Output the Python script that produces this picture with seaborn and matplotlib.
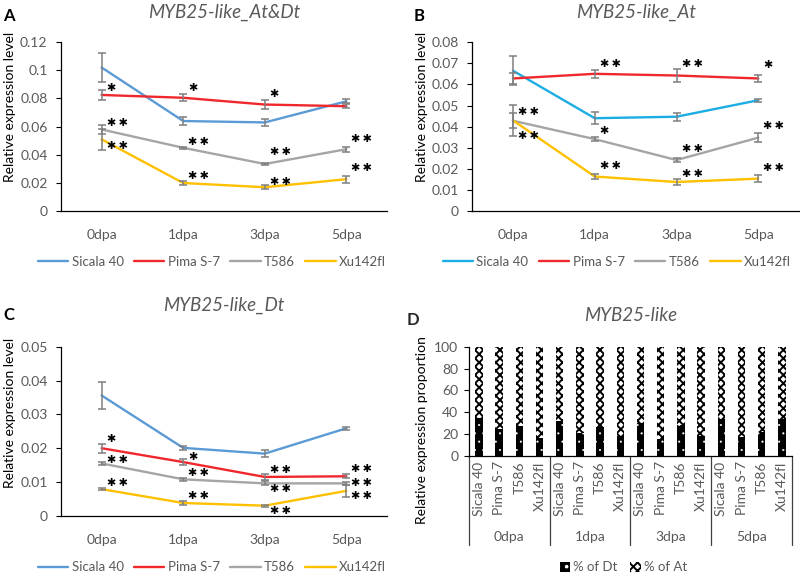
import numpy as np
import pandas as pd
import seaborn as sns
import matplotlib.pyplot as plt
import matplotlib.patches as mpatches
import matplotlib.transforms as mtrans
from matplotlib.ticker import FuncFormatter

sns.set_style("white")
plt.rcParams["font.family"] = ["Lato", "DejaVu Sans"]
plt.rcParams["hatch.linewidth"] = 1.4

stages = ["0dpa", "1dpa", "3dpa", "5dpa"]
cultivars = ["Sicala 40", "Pima S-7", "T586", "Xu142fl"]

# panel A: MYB25-like_At&Dt (rows follow cultivars)
atdt_mean = [[0.102, 0.064, 0.063, 0.078],
             [0.0825, 0.0805, 0.0757, 0.0745],
             [0.058, 0.045, 0.0335, 0.044],
             [0.051, 0.020, 0.017, 0.0227]]
atdt_err = [[0.0105, 0.0027, 0.0025, 0.0013],
            [0.0038, 0.0025, 0.0035, 0.0015],
            [0.003, 0.0006, 0.001, 0.0018],
            [0.0075, 0.0016, 0.0015, 0.0025]]
atdt_sig = [["", "", "", ""],
            ["*", "*", "*", ""],
            ["**", "**", "**", "**"],
            ["**", "**", "**", "**"]]

# panel B: MYB25-like_At
at_mean = [[0.0665, 0.0440, 0.0447, 0.0525],
           [0.0628, 0.0650, 0.0642, 0.0628],
           [0.0428, 0.0341, 0.0242, 0.0348],
           [0.0430, 0.0164, 0.0138, 0.0154]]
at_err = [[0.0068, 0.0027, 0.0018, 0.0007],
          [0.0027, 0.0018, 0.0030, 0.0017],
          [0.0035, 0.0008, 0.0009, 0.0022],
          [0.0072, 0.0013, 0.0015, 0.0016]]
at_sig = [["", "", "", ""],
          ["", "**", "**", "*"],
          ["**", "*", "**", "**"],
          ["**", "**", "**", "**"]]

# panel C: MYB25-like_Dt
dt_mean = [[0.0356, 0.0201, 0.0184, 0.0259],
           [0.0200, 0.0159, 0.0115, 0.0117],
           [0.0155, 0.0108, 0.0096, 0.0096],
           [0.0079, 0.0038, 0.0030, 0.0074]]
dt_err = [[0.0039, 0.0005, 0.0011, 0.0005],
          [0.0013, 0.0010, 0.0010, 0.0006],
          [0.0005, 0.0005, 0.0006, 0.0005],
          [0.0003, 0.0005, 0.0003, 0.0018]]
dt_sig = [["", "", "", ""],
          ["*", "*", "**", "**"],
          ["**", "**", "**", "**"],
          ["**", "**", "**", "**"]]

# panel D: percent of Dt per stage x cultivar (At is the rest)
dt_pct = [35, 25, 27, 16,
          32, 21, 26, 18,
          30, 15, 28, 18,
          34, 17.5, 22, 34]
at_pct = [100 - v for v in dt_pct]

# vertical offsets of significance marks (px, + = above the point)
atdt_sig_dy = [[0, 0, 0, 0], [7, 10, 11, 0], [6, 6, 12, 10], [-7, 7, 5, 11]]
at_sig_dy = [[0, 0, 0, 0], [0, 10, 12, 13], [9, 8, 11, 12], [-16, 11, 8, 11]]
dt_sig_dy = [[0, 0, 0, 0], [9, 5, 7, 7], [3, 6, -6, 0], [6, 7, -5, -5]]

TICK = "#595959"
PX = 0.72  # points per pixel at 100 dpi

fig = plt.figure(figsize=(8, 5.77), dpi=100)


def to_long(mean, err):
    rows = []
    for ci, cv in enumerate(cultivars):
        for si, st in enumerate(stages):
            rows.append({"cultivar": cv, "pos": si, "value": mean[ci][si], "err": err[ci][si]})
    return pd.DataFrame(rows)


def line_panel(rect, mean, err, sig, sig_dy, ymax, ystep, title, palette, letter, letter_xy,
               title_y, ylab_xy, legend_xy):
    ax = fig.add_axes(rect)
    df = to_long(mean, err)
    sns.lineplot(data=df, x="pos", y="value", hue="cultivar", palette=palette,
                 hue_order=cultivars, linewidth=1.7, ax=ax, sort=False)
    handles, labels = ax.get_legend_handles_labels()
    ax.get_legend().remove()
    for ci in range(len(cultivars)):
        sub = df[df["cultivar"] == cultivars[ci]]
        ax.errorbar(sub["pos"], sub["value"], yerr=sub["err"], fmt="none",
                    ecolor="#7f7f7f", elinewidth=1.1, capsize=3.2, capthick=1.1, zorder=3)
        for si in range(len(stages)):
            if sig[ci][si]:
                txt = "\u2009".join(["\u2731"] * len(sig[ci][si]))
                ax.annotate(txt, xy=(si, mean[ci][si]), xytext=(5 * PX, sig_dy[ci][si] * PX),
                            textcoords="offset points", ha="left", va="center",
                            fontsize=8, color="black", family="DejaVu Sans", zorder=5)
    ax.set_xlim(-0.5, len(stages) - 0.5)
    ax.set_ylim(0, ymax)
    ax.set_yticks(np.arange(0, ymax + ystep / 2, ystep))
    ax.yaxis.set_major_formatter(FuncFormatter(lambda v, p: f"{round(v, 4):g}"))
    ax.set_xticks(range(len(stages)))
    ax.set_xticklabels(stages)
    ax.tick_params(axis="x", length=0, pad=13, labelsize=10, labelcolor=TICK)
    ax.tick_params(axis="y", direction="out", length=3.5, width=0.8, color="black",
                   left=True, pad=6, labelsize=10, labelcolor=TICK)
    for s in ["top", "right"]:
        ax.spines[s].set_visible(False)
    for s in ["left", "bottom"]:
        ax.spines[s].set_color("black")
        ax.spines[s].set_linewidth(0.9)
    ax.set_xlabel("")
    ax.set_ylabel("")
    fig.text(ylab_xy[0], ylab_xy[1], "Relative expression level", rotation=90,
             ha="center", va="center", fontsize=10, color="black")
    cx = rect[0] + rect[2] / 2
    fig.text(cx, title_y, title, ha="center", va="center", fontsize=13.5,
             style="italic", color=TICK)
    fig.text(letter_xy[0], letter_xy[1], letter, ha="left", va="center", fontsize=12,
             fontweight="bold", color="black")
    fig.legend(handles, labels, loc="center", bbox_to_anchor=legend_xy, ncol=4,
               frameon=False, fontsize=9.5, handlelength=2.3, columnspacing=0.8,
               handletextpad=0.25, labelcolor=TICK)
    return ax


pal_a = ["#5B9BD5", "#F0282D", "#A5A5A5", "#FFC000"]
pal_b = ["#1CADE4", "#F0282D", "#A5A5A5", "#FFC000"]

line_panel([0.076, 0.634, 0.408, 0.293], atdt_mean, atdt_err, atdt_sig, atdt_sig_dy,
           0.12, 0.02, "MYB25-like_At&Dt", pal_a, "A", (0.004, 0.972),
           0.978, (0.012, 0.815), (0.265, 0.546))
line_panel([0.590, 0.634, 0.409, 0.293], at_mean, at_err, at_sig, at_sig_dy,
           0.08, 0.01, "MYB25-like_At", pal_b, "B", (0.517, 0.972),
           0.978, (0.527, 0.815), (0.771, 0.546))
line_panel([0.076, 0.106, 0.408, 0.293], dt_mean, dt_err, dt_sig, dt_sig_dy,
           0.05, 0.01, "MYB25-like_Dt", pal_a, "C", (0.004, 0.454),
           0.471, (0.012, 0.284), (0.265, 0.017))

# panel D: stacked proportion bars
axd = fig.add_axes([0.586, 0.210, 0.404, 0.189])
pos = list(range(len(dt_pct)))
total = [d + a for d, a in zip(dt_pct, at_pct)]
sns.barplot(x=pos, y=total, color="white", hatch="xxxx", edgecolor="black",
            linewidth=0, width=0.37, ax=axd, zorder=2)
h_at = mpatches.Patch(facecolor="white", hatch="xxxx", edgecolor="black", linewidth=0)
with plt.rc_context({"hatch.linewidth": 0.3}):
    sns.barplot(x=pos, y=dt_pct, color="black", hatch="..", edgecolor="white",
                linewidth=0, width=0.37, ax=axd, zorder=3)
    h_dt = mpatches.Patch(facecolor="black", hatch="..", edgecolor="white", linewidth=0)
axd.set_xlim(-0.5, len(pos) - 0.5)
axd.set_ylim(0, 100)
axd.set_yticks(range(0, 101, 20))
axd.set_xticks(pos)
axd.set_xticklabels(cultivars * len(stages), rotation=90)
axd.tick_params(axis="x", length=0, pad=4, labelsize=10, labelcolor=TICK)
axd.tick_params(axis="y", direction="out", length=3.5, width=0.8, color="black",
                left=True, pad=4, labelsize=10, labelcolor=TICK)
for s in ["top", "right"]:
    axd.spines[s].set_visible(False)
for s in ["left", "bottom"]:
    axd.spines[s].set_color("black")
    axd.spines[s].set_linewidth(0.9)
axd.set_xlabel("")
axd.set_ylabel("")
blend = mtrans.blended_transform_factory(axd.transData, axd.transAxes)
ng = len(cultivars)
for b in np.arange(0, len(pos) + 1, ng) - 0.5:
    axd.plot([b, b], [0, -0.82], transform=blend, color="#404040", lw=0.9, clip_on=False)
for gi, st in enumerate(stages):
    axd.text(gi * ng + (ng - 1) / 2, -0.745, st, transform=blend, ha="center",
             va="center", fontsize=10, color=TICK)
fig.text(0.527, 0.255, "Relative expression proportion", rotation=90, ha="center",
         va="center", fontsize=10, color="black")
fig.text(0.788, 0.454, "MYB25-like", ha="center", va="center", fontsize=13.5,
         style="italic", color=TICK)
fig.text(0.508, 0.445, "D", ha="left", va="center", fontsize=12, fontweight="bold")
fig.legend([h_dt, h_at], ["% of Dt", "% of At"], loc="center", bbox_to_anchor=(0.779, 0.017),
           ncol=2, frameon=False, fontsize=9.5, handlelength=0.8, handleheight=0.8,
           handletextpad=0.2, columnspacing=1.0, labelcolor=TICK)

fig.savefig("out.png", dpi=100)
